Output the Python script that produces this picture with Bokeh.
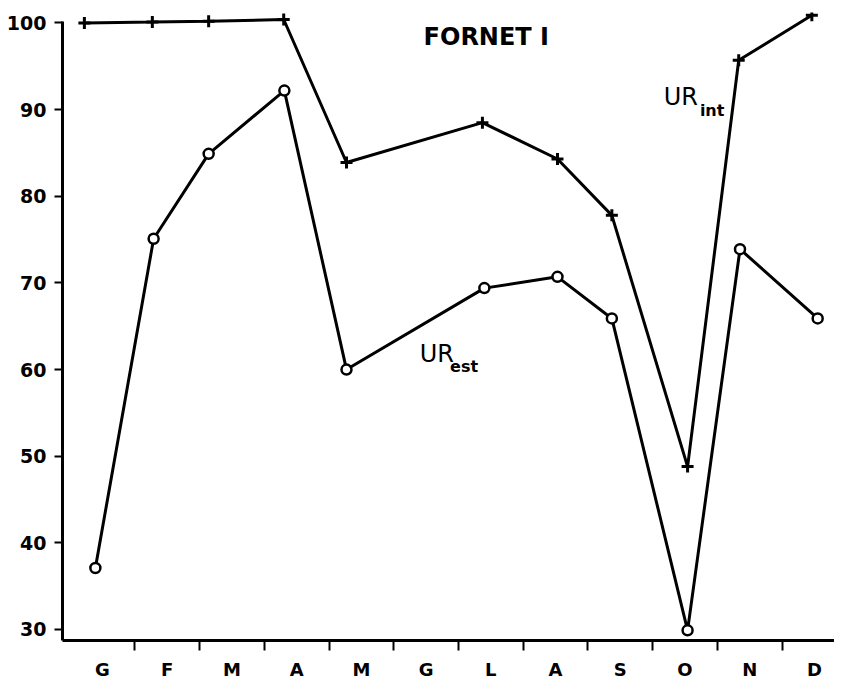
from bokeh.plotting import figure
from bokeh.models import FixedTicker, Label, Range1d
from bokeh.embed import file_html
from bokeh.resources import INLINE

# ---- data ----
months = ["G", "F", "M", "A", "M", "G", "L", "A", "S", "O", "N", "D"]
y_ticks = [30, 40, 50, 60, 70, 80, 90, 100]

# sampling position (in month units, 1 = January) and values
ur_int_pos = [0.72, 1.77, 2.64, 3.80, 4.77, 6.87, 8.03, 8.87, 10.04, 10.83, 11.96]
ur_int = [100.0, 100.1, 100.2, 100.4, 83.9, 88.5, 84.3, 77.8, 48.8, 95.7, 100.9]

ur_est_pos = [0.89, 1.79, 2.64, 3.81, 4.77, 6.90, 8.03, 8.87, 10.04, 10.85, 12.05]
ur_est = [37.1, 75.1, 84.9, 92.2, 60.0, 69.4, 70.7, 65.9, 29.9, 73.9, 65.9]

FONT = "DejaVu Sans"

p = figure(width=834, height=683, output_backend="svg", toolbar_location=None,
           x_range=Range1d(0.382, 12.31), y_range=Range1d(28.73, 101.21),
           min_border_left=62, min_border_right=0, min_border_top=12, min_border_bottom=43)
p.outline_line_color = None
p.xgrid.grid_line_color = None
p.ygrid.grid_line_color = None
p.background_fill_color = "white"
p.border_fill_color = "white"

# x axis: labels at month centres, ticks on month boundaries
xa = p.xaxis[0]
xa.ticker = FixedTicker(ticks=list(range(1, 13)),
                        minor_ticks=[i + 0.5 for i in range(1, 12)])
xa.major_label_overrides = {i + 1: m for i, m in enumerate(months)}
xa.major_tick_out = 0
xa.major_tick_in = 0
xa.minor_tick_out = 10
xa.minor_tick_in = 0
xa.minor_tick_line_width = 2
xa.minor_tick_line_color = "black"
xa.axis_line_width = 3
xa.axis_line_color = "black"
xa.major_label_standoff = 8
xa.major_label_text_font = FONT
xa.major_label_text_font_style = "bold"
xa.major_label_text_font_size = "18px"
xa.major_label_text_color = "black"

ya = p.yaxis[0]
ya.ticker = FixedTicker(ticks=y_ticks)
ya.bounds = (28.73, 100.2)
ya.major_tick_out = 8
ya.major_tick_in = 0
ya.major_tick_line_width = 2
ya.major_tick_line_color = "black"
ya.minor_tick_line_color = None
ya.axis_line_width = 3
ya.axis_line_color = "black"
ya.major_label_standoff = 8
ya.major_label_text_font = FONT
ya.major_label_text_font_style = "bold"
ya.major_label_text_font_size = "19px"
ya.major_label_text_color = "black"

# series
p.line(ur_int_pos, ur_int, line_width=3, line_color="black")
p.scatter(ur_int_pos, ur_int, marker="cross", size=12, line_width=3,
          line_color="black")

p.line(ur_est_pos, ur_est, line_width=3, line_color="black")
p.scatter(ur_est_pos, ur_est, marker="circle", size=10, line_width=2.5,
          line_color="black", fill_color="white")

# annotations
p.add_layout(Label(x=6.93, y=98.4, text="FORNET I", text_font=FONT,
                   text_font_size="24px", text_font_style="bold",
                   text_color="black", text_align="center",
                   text_baseline="alphabetic"))
p.add_layout(Label(x=9.67, y=91.45, text="UR", text_font=FONT,
                   text_font_size="24px", text_color="black",
                   text_baseline="alphabetic"))
p.add_layout(Label(x=10.23, y=89.95, text="int", text_font=FONT,
                   text_font_size="16px", text_font_style="bold",
                   text_color="black", text_baseline="alphabetic"))
p.add_layout(Label(x=5.90, y=61.8, text="UR", text_font=FONT,
                   text_font_size="24px", text_color="black",
                   text_baseline="alphabetic"))
p.add_layout(Label(x=6.37, y=60.4, text="est", text_font=FONT,
                   text_font_size="16px", text_font_style="bold",
                   text_color="black", text_baseline="alphabetic"))

open("out.html", "w").write(file_html(p, INLINE))
